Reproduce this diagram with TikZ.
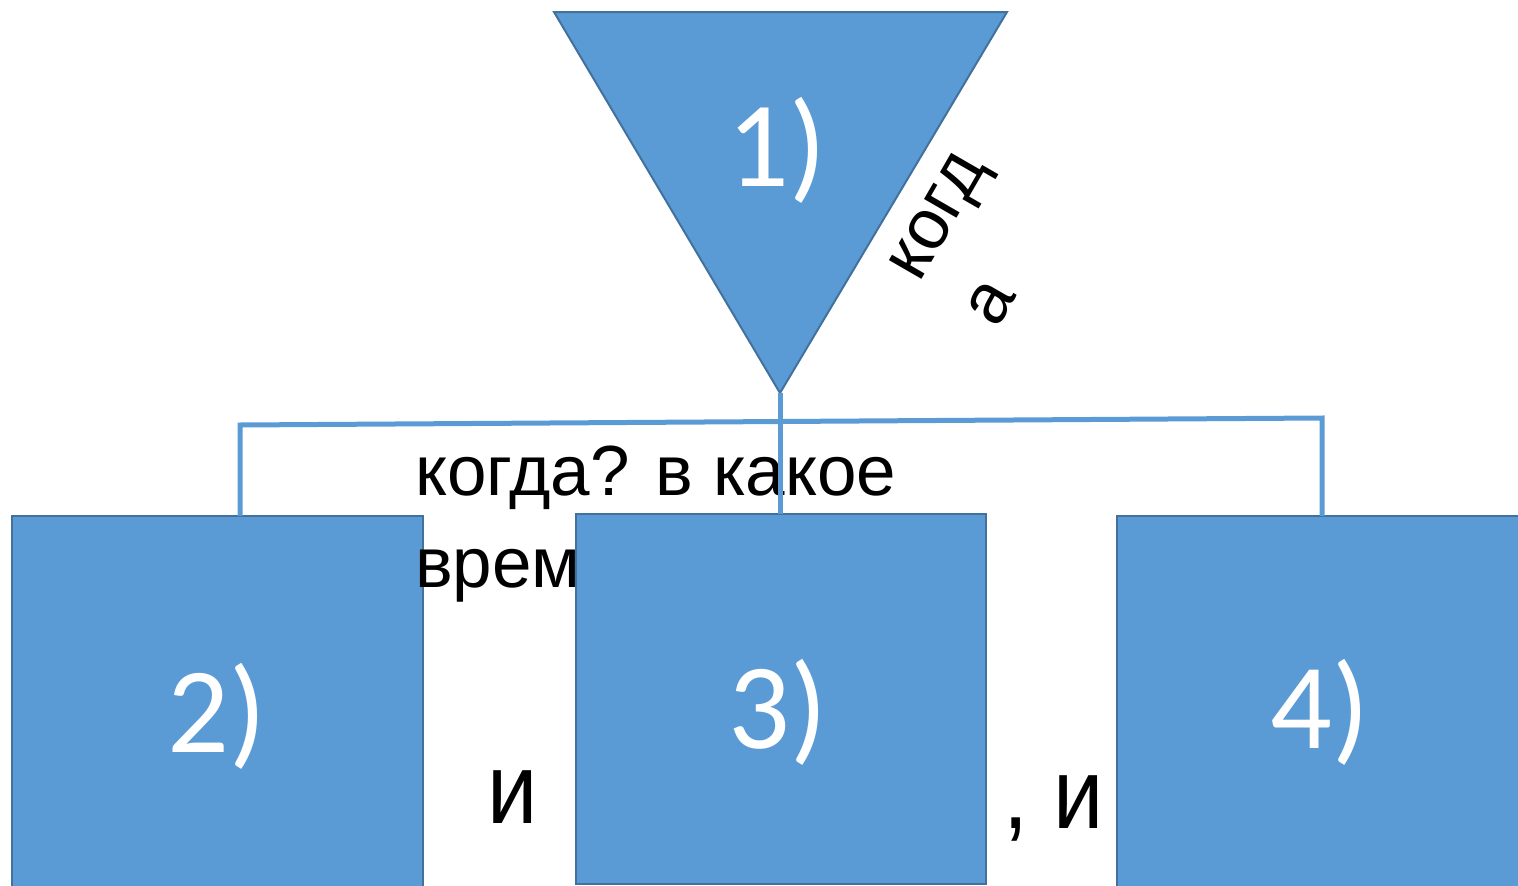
\documentclass[tikz,border=0pt]{standalone}
\usepackage{fontspec}
\setmainfont{Liberation Sans}
\newfontfamily\digfont{Carlito}
\newfontfamily\tallfont[FakeStretch=0.9]{Liberation Sans}
\definecolor{boxfill}{HTML}{5B9BD5}
\definecolor{boxedge}{HTML}{41719C}
\begin{document}
\begin{tikzpicture}[x=1pt,y=-1pt,
  shapebox/.style={fill=boxfill,draw=boxedge,line width=2pt},
  link/.style={draw=boxfill,line width=5pt},
  numlbl/.style={text=white,font=\digfont\fontsize{122}{122}\selectfont,inner sep=0pt},
  word/.style={text=black,inner sep=0pt,font=\fontsize{71}{92}\selectfont},
  bigword/.style={text=black,inner sep=0pt,font=\tallfont\fontsize{100}{110}\selectfont}]
\useasboundingbox (0,0) rectangle (1518,886);
% triangle
\draw[shapebox] (554,12) -- (1007,12) -- (780,393) -- cycle;
\coordinate (tip) at (780,393);
\node[numlbl] (n1) at (777,150) {1)};
% left and right boxes
\draw[shapebox] (12,516) rectangle (423,890);
\draw[shapebox] (1117,516) rectangle (1525,890);
\coordinate (b2top) at (240,516);
\coordinate (b4top) at (1322,516);
\node[numlbl] (n2) at (217,716) {2)};
\node[numlbl] (n4) at (1320,712) {4)};
% text
\node[word,anchor=base west] (q1) at (415,495) {когда? в какое};
\node[word,anchor=base west] (q2) at (415,587) {время?};
% middle box
\draw[shapebox] (576,514) rectangle (986,884);
\coordinate (b3top) at (780,514);
\node[numlbl] (n3) at (778,712) {3)};
% connectors
\coordinate (hl) at (240,425);
\coordinate (hr) at (1322,418);
\draw[link] (b2top) -- (hl) -- (hr) -- (b4top);
\draw[link] (tip) -- (b3top);
% rotated label
\node[word,anchor=base west,rotate=60] (k1) at (919,284) {когд};
\node[word,anchor=base west,rotate=60] (k2) at (997,330) {а};
% conjunctions
\node[bigword,anchor=base west] (i1) at (487,823) {и};
\node[bigword,anchor=base west] (i2) at (1003,828) {, и};
\end{tikzpicture}
\end{document}
